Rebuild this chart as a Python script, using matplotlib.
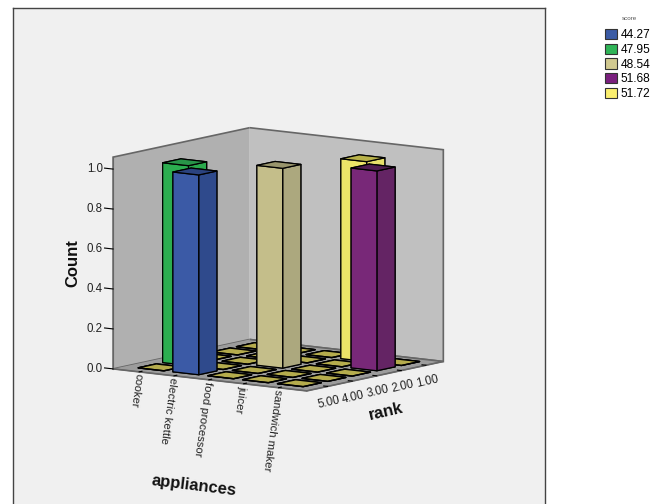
import matplotlib
matplotlib.use('Agg')
import matplotlib.pyplot as plt
from matplotlib.patches import Patch

plt.rcParams['font.family'] = ['Liberation Sans', 'DejaVu Sans']

appliances = ['cooker', 'electric kettle', 'food processor', 'juicer', 'sandwich maker']
ranks = [1, 2, 3, 4, 5]
rank_labels = ['1.00', '2.00', '3.00', '4.00', '5.00']
count_ticks = [0.0, 0.2, 0.4, 0.6, 0.8, 1.0]

# one row per response
bar_appliance = [0, 1, 2, 3, 4]
bar_rank = [4, 5, 3, 1, 2]
bar_score = ['47.95', '44.27', '48.54', '51.72', '51.68']
bar_count = [1.0, 1.0, 1.0, 1.0, 1.0]

scores = ['44.27', '47.95', '48.54', '51.68', '51.72']
legend_colors = ['#3b5ba5', '#2fb457', '#d1c990', '#7a1f7e', '#fbef6f']

# front, side, top
face_colors = {
    '44.27': ('#3b5aa6', '#2f4a8c', '#2b4380'),
    '47.95': ('#2cae50', '#2aa84c', '#289448'),
    '48.54': ('#c4be8a', '#aca87e', '#99956c'),
    '51.68': ('#782878', '#642464', '#4e1c50'),
    '51.72': ('#ece468', '#e6e06a', '#b8b24a'),
}
tile_color = '#b5ac4d'
half = 0.37

fig = plt.figure(figsize=(6.5, 5.04), dpi=100, facecolor='white')

bg = fig.add_axes([13 / 650, -0.05, 532 / 650, 0.05 + 496 / 504], facecolor='#f0f0f0')
bg.set_xticks([])
bg.set_yticks([])
for s in bg.spines.values():
    s.set_color('#444444')
    s.set_linewidth(1.0)

ax = fig.add_axes([25 / 650, 47 / 504, 496 / 650, 385 / 504], projection='3d', computed_zorder=False)
ax.patch.set_alpha(0)
ax.set_proj_type('ortho')
ax.view_init(elev=9, azim=-54)
ax.set_box_aspect((240, 233, 215), zoom=1.0)


def add_bar(i, r, h, colors, z, lw=0.9):
    front, side, top = colors
    # bar3d face order: -z, +z, -y, +y, -x, +x
    ax.bar3d(i - half, r - half, 0, 2 * half, 2 * half, h,
             color=[top, top, front, front, side, side],
             edgecolor='black', linewidth=lw, shade=False, zorder=z)


filled = set(zip(bar_appliance, bar_rank))
for i in range(len(appliances)):
    for r in ranks:
        if (i, r) not in filled:
            add_bar(i, r, 0, (tile_color, tile_color, tile_color), 2, lw=1.0)

order = sorted(range(len(bar_rank)), key=lambda k: bar_appliance[k] + bar_rank[k])
for n, k in enumerate(order):
    add_bar(bar_appliance[k], bar_rank[k], bar_count[k], face_colors[bar_score[k]], 5 + n)

ax.set_xlim(-0.75, 4.81)
ax.set_ylim(5.85, 0.29)
ax.set_zlim(0, 1.06)

ax.xaxis.set_pane_color('#b0b0b0')
ax.yaxis.set_pane_color('#c0c0c0')
ax.zaxis.set_pane_color('#9c9c9c')
ax.grid(False)
for a in (ax.xaxis, ax.yaxis, ax.zaxis):
    a.pane.set_edgecolor('#666666')
    a.pane.set_linewidth(1.2)
    a.line.set_color('#666666')
    a._axinfo['tick']['inward_factor'] = 0.0
    a._axinfo['tick']['outward_factor'] = 0.25
    a._axinfo['tick']['color'] = '#333333'
ax.zaxis._axinfo['tick']['outward_factor'] = 0.55

ax.set_xticks(range(len(appliances)))
ax.set_xticklabels(appliances, rotation=-98, ha='left', va='center', rotation_mode='anchor',
                   fontsize=8.2, color='#222222')
ax.set_yticks(ranks)
ax.set_yticklabels(rank_labels, rotation=13, ha='right', va='center', fontsize=8.3, color='#222222')
ax.set_zticks(count_ticks)
ax.set_zticklabels(['%.1f' % c for c in count_ticks], fontsize=8.3, color='#222222', va='center')
ax.zaxis.set_ticks_position('upper')
ax.tick_params(axis='x', pad=-7)
ax.tick_params(axis='y', pad=2)
ax.tick_params(axis='z', pad=0)

fig.text(73 / 650, 1 - 263 / 504, 'Count', rotation=90, fontsize=12, fontweight='bold',
         ha='center', va='center', color='#111111')
fig.text(194 / 650, 1 - 486 / 504, 'appliances', rotation=-7, fontsize=12, fontweight='bold',
         ha='center', va='center', color='#111111')
fig.text(386 / 650, 1 - 412 / 504, 'rank', rotation=13, fontsize=12, fontweight='bold',
         ha='center', va='center', color='#111111')

handles = [Patch(facecolor=c, edgecolor='#333333', linewidth=0.8) for c in legend_colors]
fig.legend(handles, scores, loc='upper left', bbox_to_anchor=(605 / 650, 1 - 29 / 504),
           frameon=False, fontsize=8.6, handlelength=1.0, handleheight=0.95, handletextpad=0.3,
           labelspacing=0.2, borderpad=0, borderaxespad=0)
fig.text(629 / 650, 1 - 19 / 504, 'score', fontsize=4.5, color='#555555', ha='center', va='center')

fig.savefig('out.png', dpi=100)
